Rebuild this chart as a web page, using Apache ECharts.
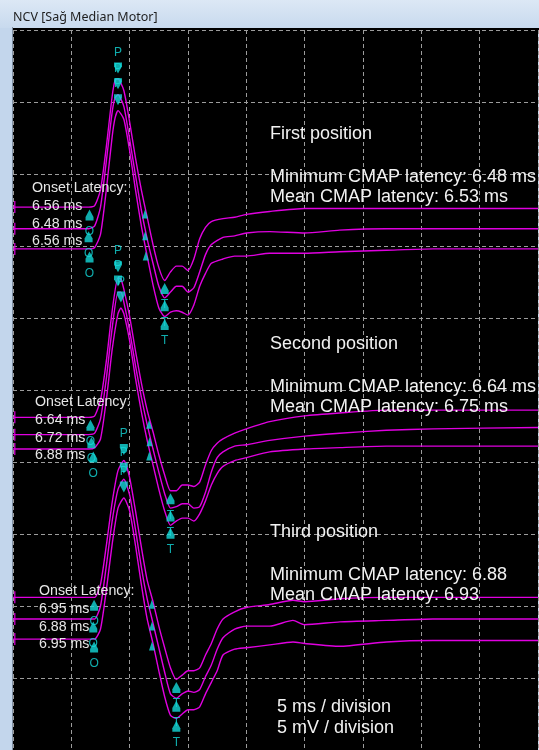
<!DOCTYPE html>
<html>
<head>
<meta charset="utf-8">
<script src="https://cdn.jsdelivr.net/npm/echarts@6/dist/echarts.min.js"></script>
<style>
html, body { margin: 0; padding: 0; background: #cddcee; }
#main { width: 539px; height: 750px; }
</style>
</head>
<body>
<div id="main"></div>
<script>
// time base (ms) of each recording position
var g1Time = [0, 6.5, 7, 7.5, 8, 8.5, 8.75, 9, 9.5, 10, 10.5, 11, 11.5, 12, 12.5, 13, 13.5, 14, 14.5, 15, 15.5, 16, 16.5, 17, 18, 19, 20, 22, 25, 28, 32, 36, 45];
var g2Time = [0, 6.5, 7, 7.5, 8, 8.5, 9, 9.25, 9.5, 10, 10.5, 11, 11.5, 12, 12.5, 13, 13.5, 14, 14.5, 15, 15.5, 16, 16.5, 17, 17.5, 18, 19, 20, 22, 25, 28, 32, 36, 45];
var g3Time = [0, 6.5, 7, 7.5, 8, 8.5, 9, 9.5, 10, 10.5, 11, 11.5, 12, 12.5, 13, 13.5, 14, 14.5, 15, 15.5, 16, 16.5, 17, 17.5, 18, 19, 20, 22, 24, 25, 28, 32, 36, 45];

// CMAP traces (mV, stacked with display offsets)
var g1Trace1 = [37.7, 37.7, 37.8, 38.9, 41.9, 45.4, 46.5, 46.6, 45.8, 43.6, 41.1, 38.9, 37.0, 35.1, 33.5, 32.6, 33.2, 33.6, 33.6, 33.3, 34.1, 35.5, 36.3, 36.7, 36.9, 37.0, 37.2, 37.4, 37.6, 37.6, 37.6, 37.6, 37.6];
var g1Trace2 = [36.2, 36.2, 36.4, 37.7, 40.9, 44.3, 45.3, 45.5, 44.7, 42.4, 39.9, 37.5, 35.5, 33.8, 32.2, 31.4, 31.8, 32.2, 32.2, 31.8, 32.1, 33.2, 34.4, 35.1, 35.6, 35.7, 35.9, 36.0, 35.9, 36.1, 36.2, 36.2, 36.2];
var g1Trace3 = [34.8, 34.8, 34.9, 35.8, 38.9, 42.6, 43.9, 44.4, 43.8, 41.6, 38.9, 36.4, 34.3, 32.3, 30.7, 30.1, 30.4, 30.5, 30.4, 30.2, 30.9, 32.2, 33.1, 33.8, 34.1, 34.3, 34.3, 34.5, 34.5, 34.6, 34.7, 34.8, 34.8];

var g2Trace1 = [23.1, 23.1, 23.2, 24.3, 27.0, 30.5, 32.8, 32.7, 32.0, 30.1, 27.7, 25.5, 23.6, 22.1, 20.5, 19.1, 18.0, 18.0, 18.4, 18.4, 18.3, 18.6, 19.8, 20.8, 21.3, 21.6, 22.0, 22.3, 22.8, 23.2, 23.4, 23.6, 23.6, 23.6];
var g2Trace2 = [21.9, 21.9, 22.0, 23.0, 25.8, 29.3, 31.8, 31.8, 31.1, 29.1, 26.7, 24.5, 22.6, 20.9, 19.3, 17.8, 16.8, 16.9, 17.1, 17.1, 16.8, 16.9, 17.9, 19.3, 20.3, 20.7, 21.1, 21.2, 21.5, 21.8, 22.0, 22.2, 22.3, 22.4];
var g2Trace3 = [20.9, 20.9, 21.0, 21.6, 24.3, 27.8, 30.3, 30.7, 30.3, 28.4, 25.8, 23.5, 21.5, 19.8, 18.1, 16.6, 15.6, 15.9, 16.1, 16.1, 15.9, 16.4, 17.3, 18.4, 19.2, 19.7, 20.1, 20.3, 20.7, 20.9, 21.0, 21.1, 21.1, 21.1];

var g3Trace1 = [10.6, 10.6, 10.6, 11.5, 14.2, 17.2, 19.4, 20.1, 18.9, 16.6, 14.1, 11.8, 10.3, 8.6, 7.1, 5.7, 4.9, 5.2, 5.5, 5.5, 5.7, 6.6, 7.4, 8.4, 9.1, 9.6, 9.9, 10.1, 10.4, 10.3, 10.5, 10.6, 10.6, 10.6];
var g3Trace2 = [9.1, 9.1, 9.1, 10.0, 12.8, 15.9, 18.1, 18.8, 17.7, 15.3, 12.7, 10.5, 8.8, 7.1, 5.4, 3.9, 3.6, 3.9, 4.1, 4.0, 4.2, 5.1, 5.9, 7.0, 7.8, 8.4, 8.6, 8.6, 9.0, 8.7, 8.9, 9.0, 9.1, 9.1];
var g3Trace3 = [7.7, 7.7, 7.7, 8.4, 11.1, 14.3, 16.8, 17.5, 16.6, 14.2, 11.5, 9.1, 7.4, 5.5, 3.7, 2.4, 2.2, 2.5, 2.8, 2.8, 3.0, 3.9, 4.7, 5.5, 6.6, 7.0, 7.1, 7.3, 7.5, 7.4, 7.2, 7.5, 7.6, 7.6];

// onset latencies (ms)
var g1Onset = [6.56, 6.48, 6.56];
var g2Onset = [6.64, 6.72, 6.88];
var g3Onset = [6.95, 6.88, 6.95];

var positionNames = ['First position', 'Second position', 'Third position'];
var minLatency = ['6.48 ms', '6.64 ms', '6.88'];
var meanLatency = ['6.53 ms', '6.75 ms', '6.93'];

var traceColor = '#e000e0';
var markColor = '#14d8d8';
var upPath = 'path://M5,0 L10,8 L10,12 L0,12 L0,8 Z';
var downPath = 'path://M0,0 L10,0 L10,4 L5,12 L0,4 Z';
var smallUp = 'path://M5,0 L10,12 L0,12 Z';

var groups = [
    { time: g1Time, traces: [g1Trace1, g1Trace2, g1Trace3], onsets: g1Onset },
    { time: g2Time, traces: [g2Trace1, g2Trace2, g2Trace3], onsets: g2Onset },
    { time: g3Time, traces: [g3Trace1, g3Trace2, g3Trace3], onsets: g3Onset }
];

var series = [];
var onsetPts = [], peakPts = [], troughPts = [], crossPts = [], tickPts = [];

groups.forEach(function (g) {
    g.traces.forEach(function (v, k) {
        var pts = g.time.map(function (t, i) { return [t, v[i]]; });
        series.push({
            type: 'line',
            data: pts,
            showSymbol: false,
            smooth: 0.2,
            silent: true,
            z: 3,
            lineStyle: { color: traceColor, width: 1.4 }
        });
        var base = v[0];
        onsetPts.push([g.onsets[k], base]);
        tickPts.push([0.15, base]);
        // peak
        var iMax = 0;
        for (var i = 0; i < v.length; i++) if (v[i] > v[iMax]) iMax = i;
        peakPts.push([g.time[iMax], v[iMax]]);
        // negative peak after it
        var iMin = iMax;
        for (i = iMax; i < v.length; i++) if (v[i] < v[iMin]) iMin = i;
        troughPts.push([g.time[iMin], v[iMin]]);
        // baseline crossing on the falling edge
        for (i = iMax + 1; i < v.length; i++) {
            if (v[i] <= base) {
                var t0 = g.time[i - 1];
                var f = (v[i - 1] - base) / (v[i - 1] - v[i]);
                crossPts.push([t0 + f * (g.time[i] - t0), base]);
                break;
            }
        }
    });
});

function markSeries(data, symbol, size, offset, text, pos, dist) {
    return {
        type: 'scatter',
        data: data,
        symbol: symbol,
        symbolSize: size,
        symbolOffset: offset,
        silent: true,
        z: 5,
        itemStyle: { color: markColor },
        label: {
            show: !!text,
            formatter: text,
            position: pos,
            distance: dist,
            color: markColor,
            fontSize: 12,
            fontFamily: '"Liberation Sans", Arial, sans-serif'
        }
    };
}

series.push(markSeries(onsetPts, upPath, [8, 11], [0, 8], 'O', 'bottom', 5));
series.push(markSeries(peakPts, downPath, [8, 11], [0, -11], 'P', 'top', 4));
series.push(markSeries(troughPts, upPath, [8, 11], [0, 8], 'T', 'bottom', 5));
series.push(markSeries(crossPts, smallUp, [6, 9], [0, 7], '', 'bottom', 0));
series.push({
    type: 'scatter',
    data: tickPts,
    symbol: 'rect',
    symbolSize: [1.5, 12],
    silent: true,
    z: 4,
    itemStyle: { color: traceColor }
});

function txt(s, x, y, size, color) {
    return {
        type: 'text', x: x, y: y, z: 10, silent: true,
        style: {
            text: s, fill: color,
            font: size + 'px "Liberation Sans", Arial, sans-serif',
            textAlign: 'left', align: 'left',
            textVerticalAlign: 'middle', verticalAlign: 'middle'
        }
    };
}

var graphics = [
    {
        type: 'rect', z: 0, silent: true,
        shape: { x: 0, y: 0, width: 539, height: 28 },
        style: { fill: new echarts.graphic.LinearGradient(0, 0, 0, 1, [
            { offset: 0, color: '#dce8f5' }, { offset: 1, color: '#c8daee' }]) }
    },
    { type: 'rect', z: 0, silent: true, shape: { x: 0, y: 28, width: 12, height: 722 }, style: { fill: '#c3d6ec' } },
    { type: 'rect', z: 0, silent: true, shape: { x: 12, y: 27, width: 1, height: 723 }, style: { fill: '#7f8fa3' } },
    { type: 'rect', z: 0, silent: true, shape: { x: 13, y: 28, width: 526, height: 2 }, style: { fill: '#000' } },
    {
        type: 'text', x: 13, y: 17, z: 10, silent: true,
        style: { text: 'NCV [Sağ Median Motor]', fill: '#1e1e1e', font: '12.5px "Noto Sans", sans-serif',
            textVerticalAlign: 'middle', verticalAlign: 'middle' }
    }
];

// onset latency lists
var onsetLeft = [32, 35, 39];
var onsetTop = [188, 402, 591];
groups.forEach(function (g, n) {
    graphics.push(txt('Onset Latency:', onsetLeft[n], onsetTop[n], 14.2, '#e6e6e6'));
    g.onsets.forEach(function (o, k) {
        graphics.push(txt(o.toFixed(2) + ' ms', onsetLeft[n], onsetTop[n] + 17.8 * (k + 1), 14.2, '#e6e6e6'));
    });
});

// position summaries
var sumTop = [134, 344, 532];
positionNames.forEach(function (name, n) {
    graphics.push(txt(name, 270, sumTop[n], 18, '#f2f2f2'));
    graphics.push(txt('Minimum CMAP latency: ' + minLatency[n], 270, sumTop[n] + 43, 18, '#f2f2f2'));
    graphics.push(txt('Mean CMAP latency: ' + meanLatency[n], 270, sumTop[n] + 63, 18, '#f2f2f2'));
});
graphics.push(txt('5 ms / division', 277, 707, 18, '#f2f2f2'));
graphics.push(txt('5 mV / division', 277, 728, 18, '#f2f2f2'));

var chart = echarts.init(document.getElementById('main'), null, { renderer: 'canvas' });
chart.setOption({
    animation: false,
    backgroundColor: '#cddcee',
    grid: {
        left: 13, top: 30, right: 1, bottom: -20,
        show: true, backgroundColor: '#000000', borderWidth: 0
    },
    xAxis: {
        type: 'value', min: 0, max: 45, interval: 5,
        axisLine: { show: false }, axisTick: { show: false }, axisLabel: { show: false },
        splitLine: { show: true, showMinLine: true, showMaxLine: true,
            lineStyle: { color: '#9c9c9c', type: [4, 3], width: 1 } }
    },
    yAxis: {
        type: 'value', min: 0, max: 50, interval: 5,
        axisLine: { show: false }, axisTick: { show: false }, axisLabel: { show: false },
        splitLine: { show: true, showMinLine: true, showMaxLine: true,
            lineStyle: { color: '#9c9c9c', type: [4, 3], width: 1 } }
    },
    graphic: { elements: graphics },
    series: series
});
</script>
</body>
</html>
